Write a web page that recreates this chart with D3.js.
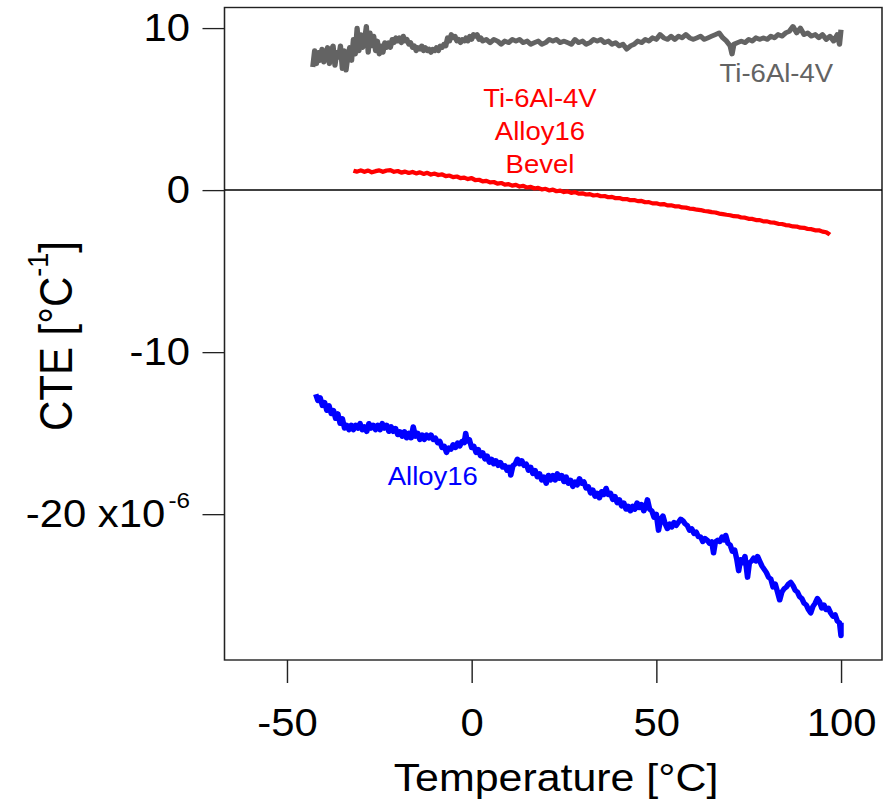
<!DOCTYPE html>
<html>
<head>
<meta charset="utf-8">
<script src="https://cdn.jsdelivr.net/npm/d3@7"></script>
<style>
  html, body { margin: 0; padding: 0; background: #fff; }
  svg { display: block; }
  text { font-family: "Liberation Sans", Arial, sans-serif; }
</style>
</head>
<body>
<svg id="chart"></svg>
<script>
// ---------------- DATA (temperature °C, CTE ×10^-6 /°C) ----------------
const xTicks = [-50, 0, 50, 100];
const yTicks = [-20, -10, 0, 10];
const xTitle = "Temperature [°C]";
const seriesNames = ["Ti-6Al-4V", "Ti-6Al-4V Alloy16 Bevel", "Alloy16"];

const ti64 = [
  [-43,7.6],[-42.5,8.6],[-42,7.8],[-41.5,8.5],[-41,8.0],[-40.5,8.7],[-40,7.9],[-39.5,8.4],[-39,8.8],[-38.5,7.8],
  [-38,8.6],[-37.5,8.9],[-37,7.7],[-36.5,8.5],[-36,8.2],[-35.5,8.9],[-35,7.5],[-34.5,8.6],[-34,7.4],[-33.5,8.3],
  [-33,8.8],[-32.5,8.0],[-32,9.3],[-31.5,8.4],[-31,10.0],[-30.5,8.6],[-30,9.6],[-29.5,8.8],[-29,9.2],[-28.5,10.1],
  [-28,8.5],[-27.5,9.7],[-27,8.9],[-26.5,9.5],[-26,8.6],[-25.5,9.2],[-25,8.4],[-24.5,8.9],[-24,8.5],[-23.5,9.1],
  [-23,8.8],[-22.5,9.1],[-22,8.8],[-21.5,9.3],[-21,9.1],[-20.5,9.4],[-20,9.2],[-19.5,9.4],[-19,9.1],[-18.5,9.5],
  [-18,9.2],[-17.5,9.3],[-17,9.0],[-16.5,9.1],[-16,8.8],[-15.5,8.9],[-15,8.6],[-14.5,8.8],[-14,8.7],[-13.5,8.9],
  [-13,8.6],[-12.5,8.8],[-12,8.6],[-11.5,8.7],[-11,8.5],[-10.5,8.7],[-10,8.6],[-9.5,8.8],[-9,8.6],[-8.5,8.9],
  [-8,8.8],[-7.5,9.0],[-7,8.9],[-6.5,9.4],[-6,9.2],[-5.5,9.6],[-5,9.4],[-4.5,9.5],[-4,9.2],[-3.5,9.3],
  [-3,9.1],[-2.5,9.3],[-2,9.2],[-1.5,9.4],[-1,9.2],[-0.5,9.5],[0,9.3],[0.5,9.6],[1,9.5],[1.5,9.6],
  [2,9.3],[2.5,9.4],[3,9.2],[4,9.3],[5,9.1],[6,9.3],[7,9.2],
  [8,9.0],[9,9.2],[10,9.1],[11,9.3],[12,9.2],[13,9.3],[14,9.1],[15,9.2],[16,9.0],[17,9.1],
  [18,9.2],[19,9.0],[20,9.1],[21,9.3],[22,9.2],[23,9.3],[24,9.1],[25,9.2],[26,9.1],[27,9.0],
  [28,9.3],[29,9.1],[30,9.2],[31,9.0],[32,9.1],[33,9.3],[34,9.2],[35,9.3],[36,9.1],[37,9.2],
  [38,9.0],[39,9.1],[40,8.9],[41,9.0],[42,8.7],[43,8.9],[44,9.0],[45,9.2],[46,9.1],[47,9.3],
  [48,9.2],[49,9.4],[50,9.3],[51,9.6],[52,9.4],[53,9.3],[54,9.5],[55,9.3],[56,9.5],[57,9.4],
  [58,9.6],[59,9.4],[60,9.3],[61,9.4],[62,9.5],[63,9.3],[64,9.4],[65,9.5],[66,9.6],[67,9.7],
  [68,9.4],[69,9.2],[70,8.9],[70.5,8.4],[71,9.0],[72,9.1],[73,9.2],[74,9.1],[75,9.3],[76,9.2],
  [77,9.4],[78,9.3],[79,9.4],[80,9.3],[81,9.5],[82,9.4],[83,9.6],[84,9.5],[85,9.7],[86,9.8],
  [87,10.1],[88,9.7],[89,10.0],[90,9.6],[91,9.7],[92,9.5],[93,9.6],[94,9.4],[95,9.6],[96,9.3],
  [97,9.5],[98,9.2],[99,9.6],[99.6,9.0],[100,9.9]
];

const bevel = [
  [-32,1.2],[-31,1.14],[-30,1.22],[-29,1.13],[-28,1.21],[-27,1.1],[-26,1.17],[-25,1.22],[-24,1.13],[-23,1.21],
  [-22,1.23],[-21,1.13],[-20,1.18],[-19,1.08],[-18,1.14],[-17,1.06],[-16,1.12],[-15,1.03],[-14,1.1],[-13,1.0],
  [-12,1.07],[-11,0.96],[-10,1.02],[-9,0.93],[-8,0.97],[-7,0.86],[-6,0.9],[-5,0.8],[-4,0.84],[-3,0.74],
  [-2,0.77],[-1,0.68],[0,0.74],[1,0.62],[2,0.64],[3,0.54],[4,0.57],[5,0.48],[6,0.5],[7,0.4],
  [8,0.44],[9,0.34],[10,0.37],[11,0.28],[12,0.32],[13,0.22],[14,0.26],[15,0.16],[16,0.2],[17,0.1],
  [18,0.14],[19,0.04],[20,0.08],[21,-0.02],[22,0.03],[23,-0.07],[24,-0.03],[25,-0.12],[26,-0.08],[27,-0.17],
  [28,-0.12],[29,-0.22],[30,-0.2],[31,-0.27],[32,-0.25],[33,-0.33],[34,-0.3],[35,-0.38],[36,-0.37],[37,-0.44],
  [38,-0.42],[39,-0.5],[40,-0.49],[41,-0.56],[42,-0.55],[43,-0.62],[44,-0.61],[45,-0.68],[46,-0.67],[47,-0.75],
  [48,-0.74],[49,-0.82],[50,-0.81],[51,-0.88],[52,-0.86],[53,-0.94],[54,-0.94],[55,-1.0],[56,-1.0],[57,-1.07],
  [58,-1.08],[59,-1.14],[60,-1.16],[61,-1.21],[62,-1.23],[63,-1.29],[64,-1.31],[65,-1.36],[66,-1.38],[67,-1.45],
  [68,-1.48],[69,-1.52],[70,-1.55],[71,-1.61],[72,-1.62],[73,-1.69],[74,-1.7],[75,-1.77],[76,-1.78],[77,-1.85],
  [78,-1.85],[79,-1.93],[80,-1.93],[81,-2.0],[82,-2.01],[83,-2.08],[84,-2.09],[85,-2.16],[86,-2.18],[87,-2.24],
  [88,-2.25],[89,-2.32],[90,-2.33],[91,-2.4],[92,-2.41],[93,-2.48],[94,-2.48],[95,-2.56],[96,-2.6],[97,-2.75]
];

const alloy16 = [
  [-42.2,-12.6],[-41.6,-13.0],[-41,-12.8],[-40.4,-13.3],[-39.8,-13.1],[-39.2,-13.6],[-38.6,-13.3],[-38,-13.8],[-37.4,-13.6],[-36.8,-14.1],
  [-36.2,-13.8],[-35.6,-14.4],[-35,-14.1],[-34.4,-14.7],[-33.8,-14.5],[-33.2,-14.8],[-32.6,-14.5],[-32,-14.8],[-31.4,-14.5],[-30.8,-14.7],
  [-30.2,-14.4],[-29.6,-14.8],[-29,-14.6],[-28.4,-14.9],[-27.8,-14.4],[-27.2,-14.7],[-26.6,-14.5],[-26,-14.8],[-25.4,-14.5],[-24.8,-14.8],
  [-24.2,-14.4],[-23.6,-14.7],[-23,-14.5],[-22.4,-14.9],[-21.8,-14.6],[-21.2,-14.9],[-20.6,-14.7],[-20,-15.1],[-19.4,-14.9],[-18.8,-15.2],
  [-18.2,-14.9],[-17.6,-15.3],[-17,-15.0],[-16.4,-15.3],[-15.8,-14.6],[-15.2,-15.2],[-14.6,-15.0],[-14,-15.4],[-13.4,-15.1],[-12.8,-15.4],
  [-12.2,-15.1],[-11.6,-15.3],[-11,-15.1],[-10.4,-15.4],[-9.8,-15.3],[-9.2,-15.6],[-8.6,-15.5],[-8,-15.9],[-7.4,-15.8],[-6.8,-16.2],
  [-6.2,-15.9],[-5.6,-16.0],[-5,-15.7],[-4.4,-15.9],[-3.8,-15.6],[-3.2,-15.8],[-2.6,-15.5],[-2,-15.6],[-1.6,-15.0],[-1.2,-15.5],
  [-0.6,-15.4],[0,-15.9],[0.6,-15.8],[1.2,-16.2],[1.8,-16.0],[2.4,-16.4],[3,-16.2],[3.6,-16.6],[4.2,-16.4],[4.8,-16.8],
  [5.4,-16.6],[6,-16.9],[6.6,-16.7],[7.2,-17.0],[7.8,-16.8],[8.4,-17.1],[9,-17.0],[9.6,-17.3],[10.2,-17.1],[10.6,-17.6],
  [11.2,-17.0],[11.8,-16.9],[12.4,-16.6],[13,-16.9],[13.6,-16.7],[14.2,-17.0],[14.8,-16.9],[15.4,-17.3],[16,-17.1],[16.6,-17.5],
  [17.2,-17.3],[17.8,-17.7],[18.4,-17.5],[19,-17.9],[19.6,-17.7],[20.2,-18.1],[20.8,-17.6],[21.4,-17.9],[22,-17.6],[22.6,-17.9],
  [23.2,-17.5],[23.8,-17.8],[24.4,-17.6],[25,-18.0],[25.6,-17.7],[26.2,-18.1],[26.8,-17.9],[27.4,-18.3],[28,-18.0],[28.6,-18.2],
  [29.2,-17.8],[29.8,-18.1],[30.4,-18.0],[31,-18.4],[31.6,-18.3],[32.2,-18.7],[32.8,-18.5],[33.4,-18.9],[34,-18.7],[34.6,-19.0],
  [35.2,-18.6],[35.8,-18.8],[36.4,-18.4],[37,-18.8],[37.6,-18.7],[38.2,-19.1],[38.8,-18.9],[39.4,-19.3],[40,-19.1],[40.6,-19.5],
  [41.2,-19.3],[41.8,-19.7],[42.4,-19.5],[43,-19.8],[43.6,-19.5],[44.2,-19.7],[44.8,-19.3],[45.4,-19.6],[46,-19.4],[46.6,-19.8],
  [47.2,-19.5],[47.6,-19.1],[48.2,-19.7],[48.8,-19.8],[49.4,-20.2],[50,-20.0],[50.6,-21.0],[51.2,-20.3],[51.8,-20.1],[52.4,-20.6],
  [53,-20.9],[53.6,-20.6],[54.2,-20.8],[54.8,-20.5],[55.4,-20.7],[56,-20.5],[56.6,-20.3],[57.2,-20.4],[57.8,-20.6],[58.4,-20.7],
  [59,-21.0],[59.6,-20.9],[60.2,-21.2],[60.8,-21.1],[61.4,-21.4],[62,-21.4],[62.6,-21.7],[63.2,-21.5],[63.8,-21.6],[64.4,-21.8],
  [65,-21.7],[65.5,-22.4],[66,-21.7],[66.6,-21.6],[67.2,-21.7],[67.8,-21.4],[68.4,-21.6],[68.8,-21.3],[69.4,-21.8],[70,-21.9],
  [70.6,-22.3],[71.2,-22.2],[71.8,-22.8],[72.3,-23.5],[72.8,-22.8],[73.4,-23.0],[74,-22.6],[74.7,-23.9],[75.2,-23.0],[75.8,-22.9],
  [76.4,-22.7],[77,-22.9],[77.4,-22.6],[78,-22.9],[78.6,-23.2],[79.2,-23.4],[79.8,-23.6],[80.4,-23.9],[81,-24.0],[81.6,-24.5],
  [82.2,-24.3],[82.8,-24.8],[83.4,-25.3],[84,-24.8],[84.6,-24.6],[85.2,-24.5],[85.8,-24.3],[86.4,-24.2],[87,-24.4],[87.6,-24.7],
  [88.2,-24.8],[88.8,-25.1],[89.4,-25.2],[90,-25.5],[90.6,-25.6],[91.2,-25.9],[91.8,-26.1],[92.4,-25.7],[93,-25.5],[93.6,-25.2],
  [94.2,-25.4],[94.8,-25.8],[95.4,-25.6],[96,-25.9],[96.6,-25.8],[97.2,-26.1],[97.8,-26.3],[98.4,-26.2],[99,-26.6],[99.6,-26.7],
  [100,-27.5],[100,-26.7]
];

// label anchor points in data units (x °C, y ×10^-6)
const labelTi64 = [82.5, 6.7];
const labelBevel = [18.5, 5.1];
const labelAlloy16 = [-10.5, -18.2];

// ---------------- LAYOUT ----------------
const W = 889, H = 803;
const S = 1.1;                 // horizontal stretch of the original raster
const VW = W / S;
const X = px => px / S;        // pixel -> viewBox x

const frame = { left: X(224.5), right: X(882), top: 7.5, bottom: 660 };
const fmt = d => String(d);    // plain hyphen-minus like the original

const svg = d3.select("#chart")
  .attr("width", W).attr("height", H)
  .attr("viewBox", `0 0 ${VW} ${H}`)
  .attr("preserveAspectRatio", "none");

const x = d3.scaleLinear().domain([-66.9, 111.1]).range([frame.left, frame.right]);
const y = d3.scaleLinear().domain([-29.0, 11.27]).range([frame.bottom, frame.top]);

// frame
svg.append("rect")
  .attr("x", frame.left).attr("y", frame.top)
  .attr("width", frame.right - frame.left).attr("height", frame.bottom - frame.top)
  .attr("fill", "none").attr("stroke", "#222").attr("stroke-width", 1.4);

// zero line
svg.append("line")
  .attr("x1", frame.left).attr("x2", frame.right)
  .attr("y1", y(0)).attr("y2", y(0))
  .attr("stroke", "#000").attr("stroke-width", 1.5);

// axes
const xAxis = svg.append("g")
  .attr("transform", `translate(0,${frame.bottom})`)
  .call(d3.axisBottom(x).tickValues(xTicks).tickSize(23).tickPadding(26).tickFormat(fmt));
xAxis.select(".domain").remove();
xAxis.selectAll("line").attr("stroke", "#222").attr("stroke-width", 1.3);
xAxis.selectAll("text").attr("font-size", 38).attr("fill", "#000")
  .style("font-family", "'Liberation Sans', Arial, sans-serif");

const yAxis = svg.append("g")
  .attr("transform", `translate(${frame.left},0)`)
  .call(d3.axisLeft(y).tickValues(yTicks).tickSize(X(22)).tickPadding(X(12.5)).tickFormat(fmt));
yAxis.select(".domain").remove();
yAxis.selectAll("line").attr("stroke", "#222").attr("stroke-width", 1.3);
yAxis.selectAll("text").attr("font-size", 38).attr("fill", "#000")
  .style("font-family", "'Liberation Sans', Arial, sans-serif");
// scale annotation on the -20 tick
yAxis.selectAll(".tick").filter(d => d === -20).select("text")
  .text(null)
  .call(t => {
    t.append("tspan").text("-20\u00A0x10");
    t.append("tspan").attr("font-size", 22).attr("dx", 3).attr("dy", "-0.85em").text("-6");
  });

// x title
svg.append("text")
  .attr("x", X(556)).attr("y", 791)
  .attr("text-anchor", "middle").attr("font-size", 39).attr("fill", "#000")
  .text(xTitle);

// y title
const yt = svg.append("text")
  .attr("transform", `translate(${X(72)},${336}) rotate(-90)`)
  .attr("text-anchor", "middle").attr("font-size", 42).attr("fill", "#000");
yt.append("tspan").text("CTE [°C");
yt.append("tspan").attr("font-size", 27).attr("dy", "-0.8em").text("-1");
yt.append("tspan").attr("dy", "0.51em").text("]");

// series
const line = d3.line().x(d => x(d[0])).y(d => y(d[1]));
const series = [
  { data: ti64, color: "#636363", width: 4.8 },
  { data: bevel, color: "#ff0000", width: 4.2 },
  { data: alloy16, color: "#0000ff", width: 5 }
];
svg.append("g").selectAll("path").data(series).join("path")
  .attr("d", d => line(d.data))
  .attr("fill", "none")
  .attr("stroke", d => d.color)
  .attr("stroke-width", d => d.width)
  .attr("stroke-linejoin", "round")
  .attr("stroke-linecap", "butt");

// labels
svg.append("text")
  .attr("x", x(labelTi64[0])).attr("y", y(labelTi64[1]))
  .attr("text-anchor", "middle").attr("font-size", 25).attr("fill", "#636363")
  .text(seriesNames[0]);

const bl = svg.append("text")
  .attr("text-anchor", "middle").attr("font-size", 25).attr("fill", "#ff0000");
["Ti-6Al-4V", "Alloy16", "Bevel"].forEach((s, i) => {
  bl.append("tspan").attr("x", x(labelBevel[0])).attr("y", y(labelBevel[1]) + i * 33).text(s);
});

svg.append("text")
  .attr("x", x(labelAlloy16[0])).attr("y", y(labelAlloy16[1]))
  .attr("text-anchor", "middle").attr("font-size", 25).attr("fill", "#0000ff")
  .text(seriesNames[2]);
</script>
</body>
</html>
